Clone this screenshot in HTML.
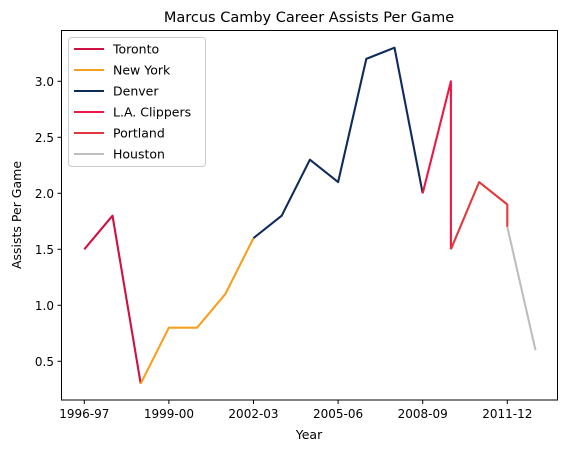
<!DOCTYPE html>
<html><head><meta charset="utf-8"><style>
body{margin:0;background:#fff;}
svg text{font-family:"DejaVu Sans","Liberation Sans",sans-serif;fill:#000;}
</style></head><body>
<svg id="chart" width="570" height="453" viewBox="0 0 570 453" xmlns="http://www.w3.org/2000/svg">
<rect width="570" height="453" fill="#fff"/>
<text x="309" y="22" font-size="14.5" text-anchor="middle">Marcus Camby Career Assists Per Game</text>
<g id="plot"></g>
<rect x="61.5" y="30.5" width="496" height="369.5" fill="none" stroke="#000" stroke-width="1"/>
<g id="axes"></g>
<text x="309" y="439" font-size="12.5" text-anchor="middle">Year</text>
<text transform="translate(21,215) rotate(-90)" font-size="12.5" text-anchor="middle">Assists Per Game</text>
<g id="legend"></g>
</svg>
<script>
const teams=["Toronto","New York","Denver","L.A. Clippers","Portland","Houston"];
const colors=["#CE1141","#F5A01E","#0E2B5C","#EE1745","#E03A3E","#BEBEBE"];
const seriesIdx=[[0,1,2],[2,3,4,5,6],[6,7,8,9,10,11,12],[12,13,13],[13,14,15,15],[15,16]];
const seriesVal=[[1.5,1.8,0.3],[0.3,0.8,0.8,1.1,1.6],[1.6,1.8,2.3,2.1,3.2,3.3,2.0],[2.0,3.0,1.5],[1.5,2.1,1.9,1.7],[1.7,0.6]];
const xTickIdx=[0,3,6,9,12,15];
const xTickLabels=["1996-97","1999-00","2002-03","2005-06","2008-09","2011-12"];
const yTicks=[0.5,1.0,1.5,2.0,2.5,3.0];
const NS="http://www.w3.org/2000/svg";
const xs=i=>84.3+28.2*i;
const ys=v=>81.3+(3-v)*112;
function mk(t,a,p){const e=document.createElementNS(NS,t);for(const k in a)e.setAttribute(k,a[k]);p.appendChild(e);return e;}
const plot=document.getElementById('plot'),axes=document.getElementById('axes'),leg=document.getElementById('legend');
seriesIdx.forEach((idx,s)=>{
  const pts=idx.map((i,j)=>xs(i).toFixed(1)+","+ys(seriesVal[s][j]).toFixed(1)).join(" ");
  const l=mk('polyline',{points:pts,fill:"none",stroke:colors[s],"stroke-width":2.1,"stroke-linejoin":"round"},plot);
  
  
});
xTickIdx.forEach((i,k)=>{
  const x=xs(i);
  const t=mk('line',{x1:x,x2:x,y1:400,y2:404,stroke:"#000"},axes);
  
  
  const tx=mk('text',{x:x,y:418,"font-size":12,"text-anchor":"middle"},axes);
  tx.textContent=xTickLabels[k];
  
  
});
yTicks.forEach(v=>{
  const y=ys(v);
  const t=mk('line',{x1:57.5,x2:61.5,y1:y,y2:y,stroke:"#000"},axes);
  
  
  const tx=mk('text',{x:54,y:y+4.5,"font-size":12,"text-anchor":"end"},axes);
  tx.textContent=v.toFixed(1);
  
  
});
const box=mk('rect',{x:68.5,y:37.5,width:137,height:129,rx:3,fill:"#fff","fill-opacity":0.8,stroke:"#ccc"},leg);


teams.forEach((n,k)=>{
  const y=49+k*21;
  const l=mk('line',{x1:74,x2:104,y1:y,y2:y,stroke:colors[k],"stroke-width":2.1},leg);
  
  
  const tx=mk('text',{x:113,y:y+4.5,"font-size":12.5},leg);
  tx.textContent=n;
  
  
});
</script>
</body></html>
